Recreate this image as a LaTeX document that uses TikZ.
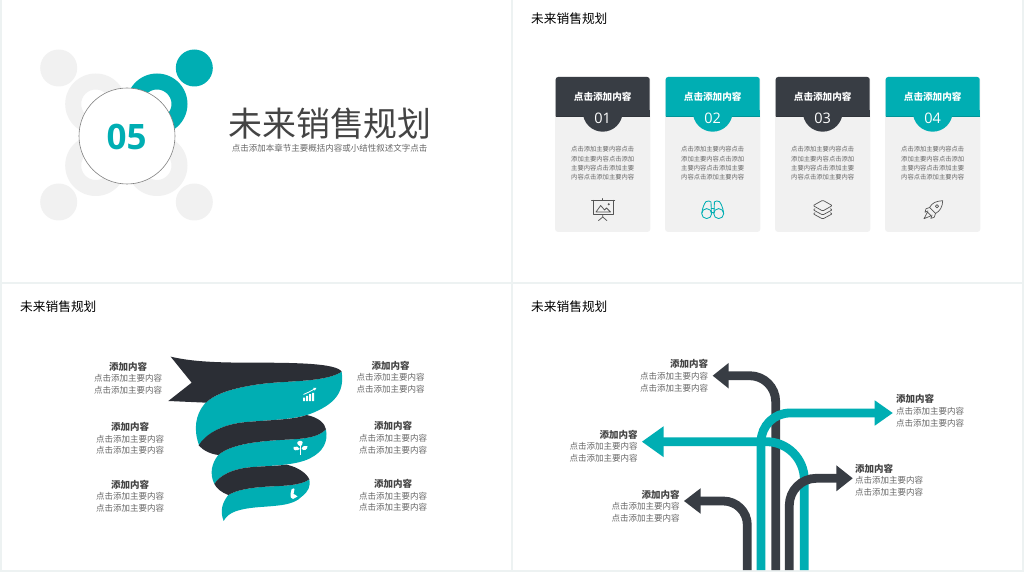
\documentclass[tikz,border=0pt]{standalone}
\usepackage{fontspec}
\usetikzlibrary{arrows.meta}
\setmainfont{Noto Sans CJK SC}
\newfontfamily\numfont{Open Sans}
\definecolor{gut}{HTML}{EDF2F2}
\definecolor{teal1}{HTML}{00AEB3}
\definecolor{dark1}{HTML}{383D44}
\definecolor{dark2}{HTML}{2B2E35}
\definecolor{pale}{HTML}{F1F1F1}
\definecolor{ink}{HTML}{444444}
\definecolor{body}{HTML}{666666}
\definecolor{icon}{HTML}{555555}
\newcommand{\fsz}[1]{\fontsize{#1}{#1}\selectfont}
\tikzset{
  txt/.style={inner sep=0pt,outer sep=0pt,font=\fsz{8.5},text=body,align=center},
  paneltitle/.style={inner sep=0pt,anchor=west,font=\fsz{12.7},text=black},
  lbl/.style={inner sep=0pt,outer sep=0pt,text=body,font={\fontsize{8.5}{11.6}\selectfont}},
  cardtitle/.style={inner sep=0pt,font=\bfseries\fsz{9.6},text=white},
  cardnum/.style={inner sep=0pt,font=\numfont\fsz{14.5},text=white},
  cardbody/.style={inner sep=0pt,align=center,text=body,font={\fontsize{6.3}{9.2}\selectfont}},
  arrowshaft/.style={line width=8.8pt},
  iconline/.style={draw=icon,line width=.75pt,line join=round,line cap=round},
  tealline/.style={draw=teal1,line width=.75pt,line join=round,line cap=round}
}
\newcommand{\lab}[5]{\node[lbl,anchor=#4,align=#5] at (#2,#3) {{\bfseries\color{ink}\fontsize{9.5}{11.6}\selectfont #1}\\点击添加主要内容\\点击添加主要内容};}
\newcommand{\card}[3]{%
  \fill[pale,rounded corners=3pt] (#1-47.6,77) rectangle (#1+47.6,232);
  \fill[#2,rounded corners=2.5pt] (#1-47,116.3) -- (#1-47,77) -- (#1+47,77) -- (#1+47,116.3);
  \fill[#2] (#1-47,110) rectangle (#1+47,116.3);
  \draw[#2!85!black,line width=.6pt] (#1-47,116.3) -- (#1+47,116.3);
  \fill[#2] (#1,111.8) circle (19.9);
  \node[cardtitle] at (#1,96.3) {点击添加内容};
  \node[cardnum] at (#1,118.3) {#3};
  \node[cardbody] at (#1,163.2) {点击添加主要内容点击\\添加主要内容点击添加\\主要内容点击添加主要\\内容点击添加主要内容};
}
\begin{document}
\begin{tikzpicture}[x=1pt,y=-1pt]
\useasboundingbox (0,0) rectangle (1024,577);
\fill[gut] (0,0) rectangle (1024,572);
\fill[white] (0,572) rectangle (1024,577);
\fill[white] (2,0) rectangle (511,282);
\fill[white] (513,0) rectangle (1022,282);
\fill[white] (2,284) rectangle (511,570.3);
\fill[white] (513,284) rectangle (1022,570.3);

% panel 1
\foreach \p in {(58.7,68),(58.7,202),(194.3,202)} \fill[pale] \p circle (18.5);
\fill[teal1] (194.3,68) circle (18.5);
\foreach \p in {(95.7,165.5),(157,165.5),(95.7,104)}
  \fill[pale,even odd rule] \p circle (30.5) \p circle (14.5);
\fill[teal1,even odd rule] (157,104) circle (30.5) (157,104) circle (14.5);
\draw[draw=gray,line width=.6pt,fill=white] (127,136) circle (48);
\node[inner sep=0pt,text=teal1,font=\numfont\bfseries\fsz{35}] (num) at (126.5,136.5) {05};
\node[inner sep=0pt,text=ink,font=\fsz{33.9}] (title) at (330,124) {未来销售规划};
\node[txt,text=body] (sub) at (329.5,148) {点击添加本章节主要概括内容或小结性叙述文字点击};

% panel 2
\node[paneltitle] (t2) at (531,18.5) {未来销售规划};
\card{602.7}{dark1}{01}
\card{712.7}{teal1}{02}
\card{822.7}{dark1}{03}
\card{932.7}{teal1}{04}
% presentation icon
\draw[iconline,line width=1pt] (591.5,200.3) -- (614.5,200.3);
\draw[iconline,line width=1pt] (593,200.3) -- (593,215) -- (613.3,215) -- (613.3,200.3);
\draw[iconline] (602.7,199.8) -- (602.7,198.6);
\draw[iconline] (602.7,215) -- (602.7,217) (598.5,220.6) -- (602.7,217) -- (606.9,220.6);
\draw[iconline] (596,212) -- (600.7,205.5) -- (604.5,210) -- (606.5,208) -- (610.5,212) -- cycle;
\fill[icon] (608.7,204.3) circle (1.1);
% binoculars icon
\draw[tealline,line width=.85pt] (706.7,213.6) circle (5) (718.7,213.6) circle (5);
\draw[tealline,line width=.85pt] (701.8,213) .. controls (702.5,208) and (704,204) .. (706,201.6) .. controls (708,200.6) and (710,200.8) .. (711,202) -- (711.4,213.5);
\draw[tealline,line width=.85pt] (723.6,213) .. controls (722.9,208) and (721.4,204) .. (719.4,201.6) .. controls (717.4,200.6) and (715.4,200.8) .. (714.4,202) -- (714,213.5);
\draw[tealline,line width=.85pt] (711.2,208) -- (714.2,208) (711.4,212) -- (714,212);
% stack icon
\draw[iconline,line width=.7pt,rounded corners=1pt] (822.7,200.2) -- (832.3,205.6) -- (822.7,211) -- (813.1,205.6) -- cycle;
\draw[iconline,line width=.7pt,rounded corners=1pt] (815,208.8) -- (813.1,209.8) -- (822.7,215) -- (832.3,209.8) -- (830.4,208.8);
\draw[iconline,line width=.7pt,rounded corners=1pt] (815,212.8) -- (813.1,213.8) -- (822.7,219) -- (832.3,213.8) -- (830.4,212.8);
% rocket icon
\draw[iconline,line width=.7pt] (942.7,200.7) .. controls (936,201) and (932,203) .. (929.5,207.5) -- (935.5,213.5) .. controls (940,211) and (942.5,207) .. (942.7,200.7) -- cycle;
\draw[iconline,line width=.7pt] (937,206.2) circle (1.6);
\draw[iconline,line width=.7pt] (929.5,207.5) -- (926,208.8) -- (925,212.2) -- (928,211);
\draw[iconline,line width=.7pt] (935.5,213.5) -- (934.2,217.2) -- (930.8,218.4) -- (932,215);
\draw[iconline,line width=.7pt] (927.5,212) -- (924,218.7) -- (931,215.8) -- cycle;

% panel 3
\node[paneltitle] (t3) at (20,306.5) {未来销售规划};
\begin{scope}[shift={(80,340)},x=.3333pt,y=-.3333pt]
\fill[teal1] (785,95) .. controls (740,125) and (640,122) .. (560,130) .. controls (470,140) and (405,160) .. (375,190) .. controls (345,225) and (340,270) .. (358,318) .. controls (375,285) and (420,255) .. (490,247) .. controls (560,240) and (640,240) .. (690,222) .. controls (760,195) and (795,160) .. (785,95) -- cycle;
\fill[dark2] (272,50) .. controls (340,66) and (420,68) .. (520,68) .. controls (650,68) and (770,70) .. (785,95) .. controls (740,125) and (640,122) .. (560,130) .. controls (470,140) and (405,160) .. (378,188) -- (265,183) -- (335,128) -- cycle;
\fill[teal1] (738,268) .. controls (710,298) and (650,297) .. (600,300) .. controls (520,305) and (450,315) .. (415,345) .. controls (395,370) and (388,400) .. (403,432) .. controls (420,405) and (460,385) .. (520,381) .. controls (590,376) and (650,375) .. (690,355) .. controls (730,335) and (745,305) .. (738,268) -- cycle;
\fill[dark2] (356,316) .. controls (375,285) and (420,255) .. (490,247) .. controls (560,240) and (640,240) .. (680,225) .. controls (715,232) and (735,250) .. (738,268) .. controls (710,298) and (650,297) .. (600,300) .. controls (520,305) and (450,315) .. (415,345) .. controls (390,342) and (368,330) .. (356,316) -- cycle;
\fill[teal1] (688,418) .. controls (660,438) and (610,437) .. (560,440) .. controls (510,443) and (470,450) .. (445,465) .. controls (425,490) and (420,515) .. (431,543) .. controls (445,515) and (480,507) .. (530,502) .. controls (590,497) and (640,497) .. (665,470) .. controls (685,455) and (692,440) .. (688,418) -- cycle;
\fill[dark2] (403,432) .. controls (420,405) and (460,385) .. (520,381) .. controls (560,378) and (590,378) .. (620,374) .. controls (655,382) and (680,400) .. (688,418) .. controls (660,438) and (610,437) .. (560,440) .. controls (510,443) and (470,450) .. (445,465) .. controls (425,458) and (410,445) .. (403,432) -- cycle;
\end{scope}
% ribbon icons
\fill[white] (303,397.5) rectangle (305,401) (306,395.8) rectangle (308,401) (309,394.2) rectangle (311,401) (312,392.8) rectangle (314,401);
\draw[white,line width=.8pt,-{Latex[length=3pt,width=3.5pt]}] (303.5,394.5) -- (309,392) -- (316.6,387.8);
\fill[white] (300.7,446.5) .. controls (297,445) and (296,442) .. (299,441) .. controls (303,440) and (304,443) .. (300.7,446.5) -- cycle;
\fill[white] (300,449) .. controls (296,451.5) and (293,450.5) .. (293.5,447) .. controls (296,446) and (298.5,446.5) .. (300,449) -- cycle;
\fill[white] (301.5,449) .. controls (302.5,446) and (305,445) .. (307.5,446) .. controls (307.5,449.5) and (304.5,451.5) .. (301.5,449) -- cycle;
\draw[white,line width=.6pt] (300.7,446) -- (300.7,454.5);
\fill[white] (291.5,489.5) .. controls (293,488) and (294,488) .. (294.5,489) -- (293.5,494) .. controls (295,495) and (296.5,495) .. (297.5,496.5) -- (293,499) .. controls (291,498.5) and (290,497) .. (290.5,494) -- cycle;

\lab{添加内容}{128}{378}{center}{center}
\lab{添加内容}{130}{438.5}{center}{center}
\lab{添加内容}{130}{496}{center}{center}
\lab{添加内容}{390.5}{377}{center}{center}
\lab{添加内容}{393}{437.7}{center}{center}
\lab{添加内容}{393}{495.5}{center}{center}

% panel 4
\node[paneltitle] (t4) at (531,306.5) {未来销售规划};
\draw[dark1,arrowshaft,rounded corners=26pt] (775.7,570) -- (775.7,375.7) -- (727,375.7);
\fill[dark1] (712.7,375.7) -- (728.7,362.9) -- (728.7,388.5) -- cycle;
\draw[teal1,arrowshaft,rounded corners=38pt] (804.3,570) -- (804.3,441.7) -- (662,441.7);
\fill[teal1] (642,441.7) -- (663.7,426.2) -- (663.7,457.2) -- cycle;
\draw[teal1,arrowshaft,rounded corners=29pt] (761,570) -- (761,413) -- (876,413);
\fill[teal1] (892.7,413) -- (874.7,400.3) -- (874.7,425.7) -- cycle;
\draw[dark1,arrowshaft,rounded corners=27pt] (789.3,570) -- (789.3,478.3) -- (838,478.3);
\fill[dark1] (852.7,478.3) -- (836.3,465.3) -- (836.3,491.3) -- cycle;
\draw[dark1,arrowshaft,rounded corners=24pt] (747.3,570) -- (747.3,501) -- (699,501);
\fill[dark1] (684,501) -- (700.7,488.2) -- (700.7,513.8) -- cycle;
\lab{添加内容}{708}{375.7}{east}{right}
\lab{添加内容}{896}{410.7}{west}{left}
\lab{添加内容}{637.5}{446}{east}{right}
\lab{添加内容}{855}{480}{west}{left}
\lab{添加内容}{679.5}{506}{east}{right}
\end{tikzpicture}
\end{document}
